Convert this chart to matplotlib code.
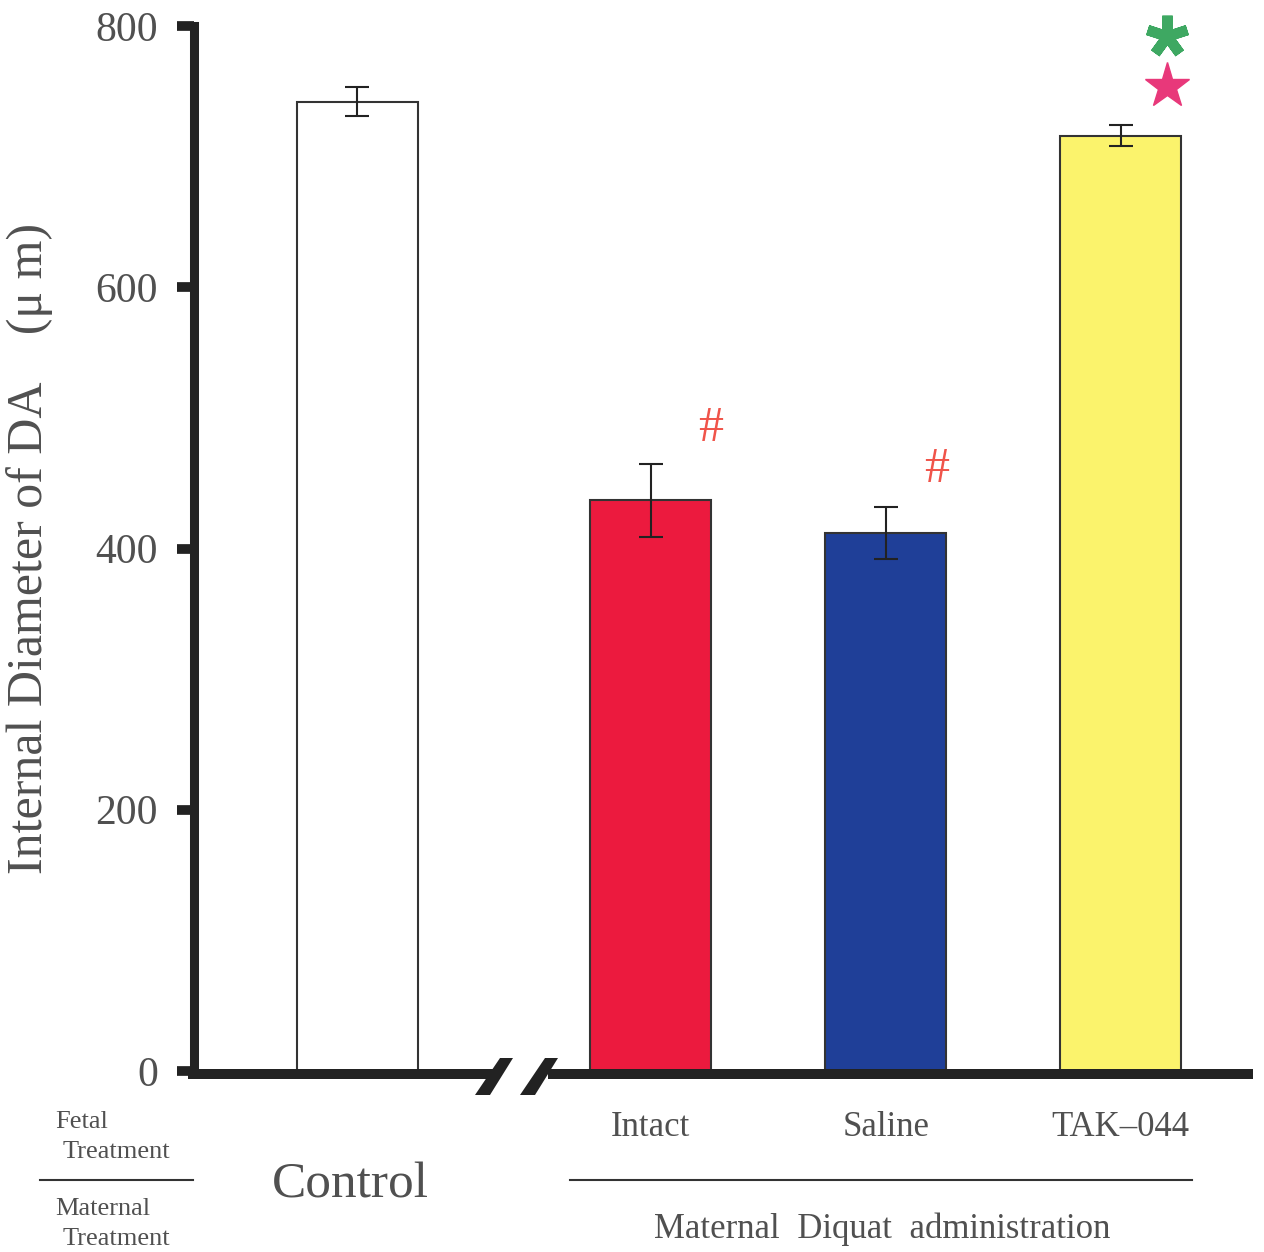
import matplotlib
matplotlib.use("Agg")
import matplotlib.pyplot as plt
from matplotlib.patches import Polygon
from matplotlib.lines import Line2D

# Internal diameter of the ductus arteriosus per treatment group
groups = ["Control", "Intact", "Saline", "TAK\u2013044"]
means = [742, 437, 412, 716]
sems = [11, 28, 20, 8]
bar_colors = ["white", "#ec1a3e", "#1f3f98", "#fbf36c"]
positions = [0.0, 1.25, 2.25, 3.25]

yticks = [0, 200, 400, 600, 800]

W, H = 1264, 1252
TEXT = "#505050"
SERIF = ["Liberation Serif", "DejaVu Serif"]

plt.rcParams["font.family"] = SERIF

fig = plt.figure(figsize=(W / 100, H / 100), dpi=100)
ax = fig.add_axes([194 / W, 1 - 1071 / H, (1253 - 194) / W, (1071 - 26) / H])


def px(x, y):
    """Pixel position (from top-left) to figure fraction."""
    return (x / W, 1 - y / H)


ax.bar(positions, means, width=0.515, color=bar_colors, edgecolor="#333333",
       linewidth=1.5, zorder=2)
ax.errorbar(positions, means, yerr=sems, fmt="none", ecolor="#222222",
            elinewidth=1.5, capsize=8.5, capthick=1.5, zorder=3)

ax.set_xlim(-0.694, 3.813)
ax.set_ylim(0, 800)
ax.set_yticks(yticks)
ax.set_yticklabels([str(v) for v in yticks], fontsize=30, color=TEXT)
ax.tick_params(axis="y", direction="out", length=12, width=7, color="#222222", pad=14)
ax.set_xticks([])

for side in ("top", "right", "bottom"):
    ax.spines[side].set_visible(False)
ax.spines["left"].set_linewidth(6.5)
ax.spines["left"].set_color("#222222")

# broken x axis drawn in pixel space
axis_col = "#222222"
fig.add_artist(Line2D([px(188, 0)[0], px(500, 0)[0]], [px(0, 1074)[1]] * 2,
                      transform=fig.transFigure, color=axis_col, lw=7.2,
                      solid_capstyle="butt"))
fig.add_artist(Line2D([px(548, 0)[0], px(1253, 0)[0]], [px(0, 1074)[1]] * 2,
                      transform=fig.transFigure, color=axis_col, lw=7.2,
                      solid_capstyle="butt"))
for x0 in (475, 520):
    quad = [px(x0, 1095), px(x0 + 15, 1095), px(x0 + 38, 1058), px(x0 + 25, 1058)]
    fig.add_artist(Polygon(quad, closed=True, transform=fig.transFigure,
                           facecolor=axis_col, edgecolor="none"))

# significance marks
ax.text(positions[1] + 0.255, 492, "#", fontsize=36, color="#f0544a",
        ha="center", va="center")
ax.text(positions[2] + 0.217, 460, "#", fontsize=36, color="#f0544a",
        ha="center", va="center")
ax.plot(positions[3] + 0.196, 792, marker=(5, 2, 0), markersize=30,
        markeredgewidth=7.5, color="#3ea862", clip_on=False)
ax.plot(positions[3] + 0.196, 754, marker="*", markersize=34,
        color="#e8387a", markeredgecolor="#e8387a", clip_on=False)

# group labels under the axis
for pos, name in zip(positions[1:], groups[1:]):
    ax.text(pos, -43, name, fontsize=25, color=TEXT, ha="center", va="center",
            clip_on=False)
fig.text(*px(350, 1185), groups[0], fontsize=37, color=TEXT, ha="center", va="center")
fig.text(*px(882, 1229), "Maternal  Diquat  administration", fontsize=25,
         color=TEXT, ha="center", va="center")
fig.add_artist(Line2D([px(570, 0)[0], px(1192, 0)[0]], [px(0, 1180)[1]] * 2,
                      transform=fig.transFigure, color="#333333", lw=1.5))

fig.text(*px(55, 1122), "Fetal", fontsize=19, color=TEXT, ha="left", va="center")
fig.text(*px(63, 1152), "Treatment", fontsize=19, color=TEXT, ha="left", va="center")
fig.text(*px(55, 1209), "Maternal", fontsize=19, color=TEXT, ha="left", va="center")
fig.text(*px(63, 1239), "Treatment", fontsize=19, color=TEXT, ha="left", va="center")
fig.add_artist(Line2D([px(40, 0)[0], px(193, 0)[0]], [px(0, 1180)[1]] * 2,
                      transform=fig.transFigure, color="#333333", lw=1.5))

fig.text(*px(30, 548), "Internal Diameter of DA    (\u03bc m)", fontsize=36,
         color=TEXT, rotation=90, ha="center", va="center")

fig.savefig("out.png", dpi=100, facecolor="white")
